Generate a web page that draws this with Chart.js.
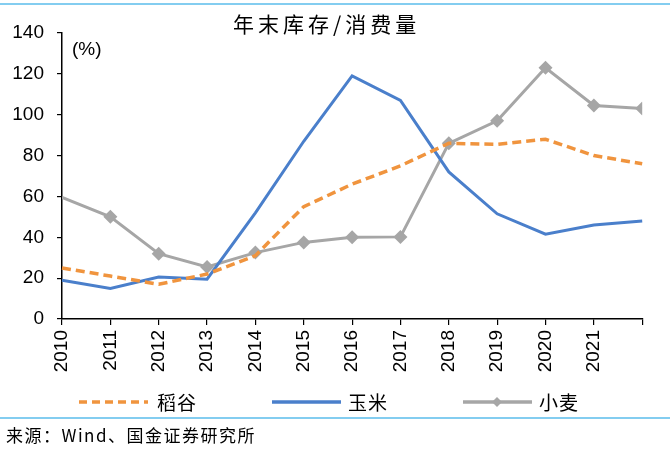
<!DOCTYPE html>
<html>
<head>
<meta charset="utf-8">
<script src="https://cdn.jsdelivr.net/npm/chart.js@4.4.1/dist/chart.umd.min.js"></script>
<style>
	html, body { margin: 0; padding: 0; background: #fff; }
	#wrap { width: 670px; height: 454px; position: relative; }
</style>
</head>
<body>
<div id="wrap"><canvas id="myChart" width="670" height="454"></canvas></div>
<script>
// data
const years = ["2010", "2011", "2012", "2013", "2014", "2015", "2016", "2017", "2018", "2019", "2020", "2021", "2022"];
const rice = [25, 21, 17, 22, 31, 55, 66, 75, 86, 85.5, 88, 80, 76];
const corn = [19, 15, 20.5, 19.5, 52, 87, 119, 107, 72, 51.5, 41.5, 46, 48];
const wheat = [59.5, 50, 32, 25.5, 32.5, 37.5, 40, 40.2, 86, 97, 123, 104.5, 103];
const yTicks = [0, 20, 40, 60, 80, 100, 120, 140];

const labelFont = "'Liberation Sans', Arial, sans-serif";
const cjkFont = "'Noto Sans CJK SC', sans-serif";

const orange = "#F0943E";
const blue = "#4A7FCB";
const gray = "#A6A6A6";

// title, legend, unit label, source and the two light blue rules
const decor = {
	id: "decor",
	afterDraw(chart) {
		const c = chart.ctx;
		c.save();
		c.strokeStyle = "#5BBDEB";
		c.lineWidth = 1.5;
		c.beginPath();
		c.moveTo(0, 4); c.lineTo(670, 4);
		c.moveTo(0, 418); c.lineTo(670, 418);
		c.stroke();

		c.fillStyle = "#000";
		c.textBaseline = "middle";
		c.textAlign = "left";
		c.font = "21px " + cjkFont;
		c.letterSpacing = "4px";
		c.fillText("年末库存/消费量", 233, 24);

		c.letterSpacing = "0px";
		c.font = "19px " + labelFont;
		c.fillText("(%)", 72, 50);

		// legend
		c.font = "19px " + cjkFont;
		c.letterSpacing = "1px";
		c.lineWidth = 3.5;
		c.strokeStyle = orange;
		c.setLineDash([8, 5]);
		c.beginPath(); c.moveTo(79, 402); c.lineTo(148, 402); c.stroke();
		c.setLineDash([]);
		c.fillText("稻谷", 157, 403);

		c.strokeStyle = blue;
		c.beginPath(); c.moveTo(272, 402); c.lineTo(341, 402); c.stroke();
		c.fillText("玉米", 348, 403);

		c.strokeStyle = gray;
		c.beginPath(); c.moveTo(463, 402); c.lineTo(532, 402); c.stroke();
		c.fillStyle = gray;
		c.beginPath();
		c.moveTo(497, 397); c.lineTo(502, 402); c.lineTo(497, 407); c.lineTo(492, 402);
		c.closePath(); c.fill();
		c.fillStyle = "#000";
		c.fillText("小麦", 539, 403);

		c.font = "17px " + cjkFont;
		c.letterSpacing = "1.5px";
		c.fillText("来源：Wind、国金证券研究所", 6, 436);
		c.restore();
	},
};

const ctx = document.getElementById("myChart");

new Chart(ctx, {
	type: "line",
	data: {
		labels: years,
		datasets: [
			{
				label: "稻谷",
				data: rice,
				borderColor: orange,
				borderWidth: 3.5,
				borderDash: [9, 5],
				pointRadius: 0,
				tension: 0,
			},
			{
				label: "玉米",
				data: corn,
				borderColor: blue,
				borderWidth: 3,
				pointRadius: 0,
				tension: 0,
			},
			{
				label: "小麦",
				data: wheat,
				borderColor: gray,
				backgroundColor: gray,
				borderWidth: 3,
				pointStyle: "rectRot",
				pointRadius: [0, 7, 7, 7, 7, 7, 7, 7, 7, 7, 7, 7, 7],
				pointBorderWidth: 0,
				tension: 0,
				clip: 0,
			},
		],
	},
	options: {
		responsive: false,
		animation: false,
		layout: { padding: { top: 33, right: 24, left: 0, bottom: 0 } },
		plugins: {
			legend: { display: false },
			tooltip: { enabled: false },
		},
		scales: {
			x: {
				offset: false,
				afterFit: (scale) => { scale.height = 135; },
				grid: { drawOnChartArea: false, drawTicks: true, tickLength: 6, color: "#000", lineWidth: 1.2 },
				border: { color: "#000", width: 1.5 },
				ticks: {
					color: "#000",
					font: { family: labelFont, size: 19 },
					minRotation: 90,
					maxRotation: 90,
					autoSkip: false,
					padding: 5,
					callback: (v, i) => (i === years.length - 1 ? "" : years[i]),
				},
			},
			y: {
				min: 0,
				max: 140,
				afterFit: (scale) => { scale.width = 62; },
				afterBuildTicks: (scale) => { scale.ticks = yTicks.map((v) => ({ value: v })); },
				grid: { drawOnChartArea: false, drawTicks: true, tickLength: 5, color: "#000", lineWidth: 1.2 },
				border: { color: "#000", width: 1.5 },
				ticks: {
					color: "#000",
					font: { family: labelFont, size: 19 },
					padding: 13,
				},
			},
		},
	},
	plugins: [decor],
});
</script>
</body>
</html>
